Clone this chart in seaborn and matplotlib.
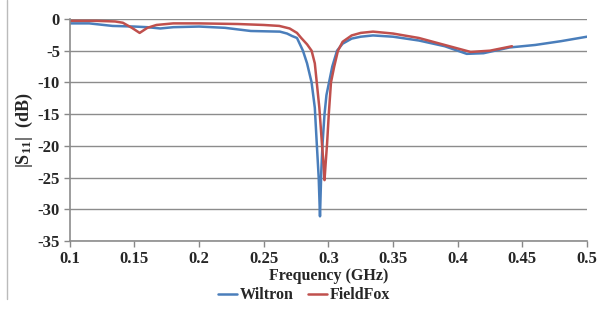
import pandas as pd
import seaborn as sns
import matplotlib.pyplot as plt
from matplotlib.lines import Line2D

# values
wiltron_f = [0.100, 0.115, 0.133, 0.150, 0.160, 0.170, 0.180, 0.200, 0.220, 0.240,
             0.2625, 0.268, 0.272, 0.2757, 0.2803, 0.2835, 0.287, 0.2895, 0.291, 0.2925,
             0.2935, 0.2945, 0.2955, 0.297, 0.2985, 0.3005, 0.303, 0.3067, 0.311, 0.318,
             0.325, 0.3345, 0.350, 0.370, 0.390, 0.407, 0.420, 0.440, 0.460, 0.480, 0.500]
wiltron_db = [-0.7, -0.7, -1.1, -1.2, -1.3, -1.5, -1.3, -1.2, -1.4, -1.9,
              -2.0, -2.3, -2.7, -3.0, -5.0, -7.0, -10.0, -14.0, -19.6, -25.0,
              -31.1, -24.0, -19.6, -15.0, -12.0, -10.0, -7.5, -5.0, -3.9, -3.1,
              -2.8, -2.6, -2.8, -3.4, -4.3, -5.5, -5.4, -4.5, -4.1, -3.5, -2.8]

fieldfox_f = [0.100, 0.120, 0.135, 0.141, 0.148, 0.154, 0.160, 0.167, 0.180, 0.200,
              0.230, 0.250, 0.262, 0.270, 0.2757, 0.279, 0.2835, 0.287, 0.2895, 0.291,
              0.293, 0.295, 0.2963, 0.297, 0.2978, 0.299, 0.3003, 0.302, 0.3045, 0.3074,
              0.311, 0.318, 0.325, 0.3345, 0.350, 0.370, 0.390, 0.410, 0.425, 0.442]
fieldfox_db = [-0.3, -0.3, -0.4, -0.6, -1.4, -2.2, -1.4, -0.95, -0.7, -0.7,
               -0.8, -0.95, -1.1, -1.5, -2.2, -3.0, -4.0, -5.0, -7.0, -10.0,
               -14.0, -19.6, -23.0, -25.4, -23.0, -19.6, -15.0, -10.0, -7.5, -5.0,
               -3.6, -2.6, -2.2, -2.0, -2.3, -3.0, -4.1, -5.2, -5.0, -4.3]

xticks = [0.1, 0.15, 0.2, 0.25, 0.3, 0.35, 0.4, 0.45, 0.5]
xtick_labels = ["0.1", "0.15", "0.2", "0.25", "0.3", "0.35", "0.4", "0.45", "0.5"]
yticks = [0, -5, -10, -15, -20, -25, -30, -35]

df = pd.concat([
    pd.DataFrame({"freq": wiltron_f, "s11": wiltron_db, "series": "Wiltron"}),
    pd.DataFrame({"freq": fieldfox_f, "s11": fieldfox_db, "series": "FieldFox"}),
])

sns.set_style("white")
plt.rcParams["font.family"] = ["Liberation Serif", "DejaVu Serif"]
plt.rcParams["font.weight"] = "bold"
plt.rcParams["axes.unicode_minus"] = False
plt.rcParams["mathtext.fontset"] = "custom"
plt.rcParams["mathtext.rm"] = "Liberation Serif:bold"
plt.rcParams["mathtext.bf"] = "Liberation Serif:bold"
plt.rcParams["mathtext.it"] = "Liberation Serif:bold"

fig = plt.figure(figsize=(6.02, 3.21), dpi=100)
ax = fig.add_axes([0.116, 0.249, 0.859, 0.692])

ax = sns.lineplot(data=df, x="freq", y="s11", hue="series", sort=False,
                  palette={"Wiltron": "#4a7ebb", "FieldFox": "#c0504d"},
                  linewidth=1.8, ax=ax, legend=False)

ax.set_xlim(0.1, 0.5)
ax.set_ylim(-35, 0)
ax.set_xticks(xticks)
ax.set_xticklabels(xtick_labels)
ax.set_yticks(yticks)
ax.tick_params(axis="both", labelsize=12, length=4, width=1, color="#888888",
               direction="out", bottom=True, left=True, pad=3)
for t in ax.get_xticklabels() + ax.get_yticklabels():
    t.set_fontweight("bold")

ax.grid(axis="y", color="#8c8c8c", linewidth=1)
ax.grid(axis="x", visible=False)
for side in ["top", "right"]:
    ax.spines[side].set_visible(False)
for side in ["left", "bottom"]:
    ax.spines[side].set_color("#8c8c8c")
    ax.spines[side].set_linewidth(1.2)

ax.set_xlabel("Frequency (GHz)", fontsize=11.5, fontweight="bold", labelpad=1)
ax.set_ylabel(r"|S$_{\mathbf{11}}$|  (dB)", fontsize=13, fontweight="bold", labelpad=2)

handles = [Line2D([0], [0], color="#4a7ebb", lw=1.8),
           Line2D([0], [0], color="#c0504d", lw=1.8)]
fig.legend(handles, ["Wiltron", "FieldFox"], loc="center", ncol=2,
           bbox_to_anchor=(0.505, 0.080), frameon=False,
           handlelength=1.2, handletextpad=0.15, columnspacing=0.9,
           prop={"weight": "bold", "size": 11.5})

# thin border line at the left edge
fig.add_artist(Line2D([0.012, 0.012], [0.07, 1.0], transform=fig.transFigure,
                      color="#bbbbbb", lw=1))

plt.savefig("out.png", dpi=100)
